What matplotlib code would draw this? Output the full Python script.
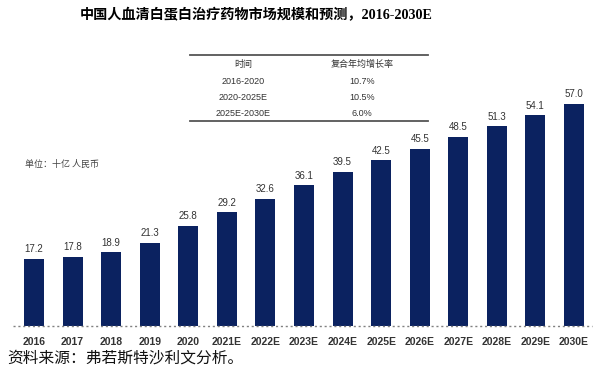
import numpy as np
import matplotlib.pyplot as plt
from matplotlib.lines import Line2D

plt.rcParams['font.family'] = ['Liberation Sans', 'Noto Sans CJK SC', 'DejaVu Sans']

years = ["2016", "2017", "2018", "2019", "2020", "2021E", "2022E", "2023E",
         "2024E", "2025E", "2026E", "2027E", "2028E", "2029E", "2030E"]
values = [17.2, 17.8, 18.9, 21.3, 25.8, 29.2, 32.6, 36.1,
          39.5, 42.5, 45.5, 48.5, 51.3, 54.1, 57.0]

periods = ["2016-2020", "2020-2025E", "2025E-2030E"]
cagr = ["10.7%", "10.5%", "6.0%"]

W, H = 594, 374
fig = plt.figure(figsize=(W / 100, H / 100), dpi=100)
ax = fig.add_axes([13 / W, (H - 326) / H, (592 - 13) / W, 222 / H])

x = np.arange(len(years))
bars = ax.bar(x, values, width=0.52, color='#0b2260', zorder=2)
for xi, v in zip(x, values):
    ax.text(xi, v + 1.2, f"{v:.1f}", ha='center', va='bottom',
            fontsize=7, color='#333333')

ax.set_xlim(-0.544, 14.467)
ax.set_ylim(0, 57)
ax.axhline(0, color='#808080', linestyle=(0, (1.5, 2)), linewidth=1.0,
           zorder=3, clip_on=False)
for s in ax.spines.values():
    s.set_visible(False)
ax.set_yticks([])
ax.set_xticks(x)
ax.set_xticklabels(years, fontsize=7.5, fontweight='bold', color='#333333')
ax.tick_params(axis='x', length=0, pad=8)

# title
fig.text(256 / W, 1 - 15 / H, "中国人血清白蛋白治疗药物市场规模和预测，2016-2030E",
         ha='center', va='center', fontsize=10.2, fontweight='bold',
         family=['Liberation Serif', 'Noto Sans CJK SC'])

# unit
fig.text(25 / W, 1 - 164 / H, "单位：十亿 人民币", ha='left', va='center',
         fontsize=6.5, color='#444444', family=['Noto Sans CJK SC'])

# source
fig.text(7 / W, 1 - 358 / H, "资料来源：弗若斯特沙利文分析。", ha='left', va='center',
         fontsize=11.3, color='#111111', family=['Noto Sans CJK SC'])

# CAGR table
tl, tr = 190 / W, 428 / W
for yy in (55, 121):
    fig.add_artist(Line2D([tl, tr], [1 - yy / H, 1 - yy / H], color='#555555', linewidth=1.3))
c1, c2 = 243 / W, 362 / W
fig.text(c1, 1 - 64 / H, "时间", ha='center', va='center', fontsize=6.5,
         color='#333333', family=['Noto Sans CJK SC'])
fig.text(c2, 1 - 64 / H, "复合年均增长率", ha='center', va='center', fontsize=6.5,
         color='#333333', family=['Noto Sans CJK SC'])
for i, (p, c) in enumerate(zip(periods, cagr)):
    yy = 1 - (81 + i * 16) / H
    fig.text(c1, yy, p, ha='center', va='center', fontsize=6.5, color='#333333')
    fig.text(c2, yy, c, ha='center', va='center', fontsize=6.5, color='#333333')

plt.savefig("out.png", dpi=100)
